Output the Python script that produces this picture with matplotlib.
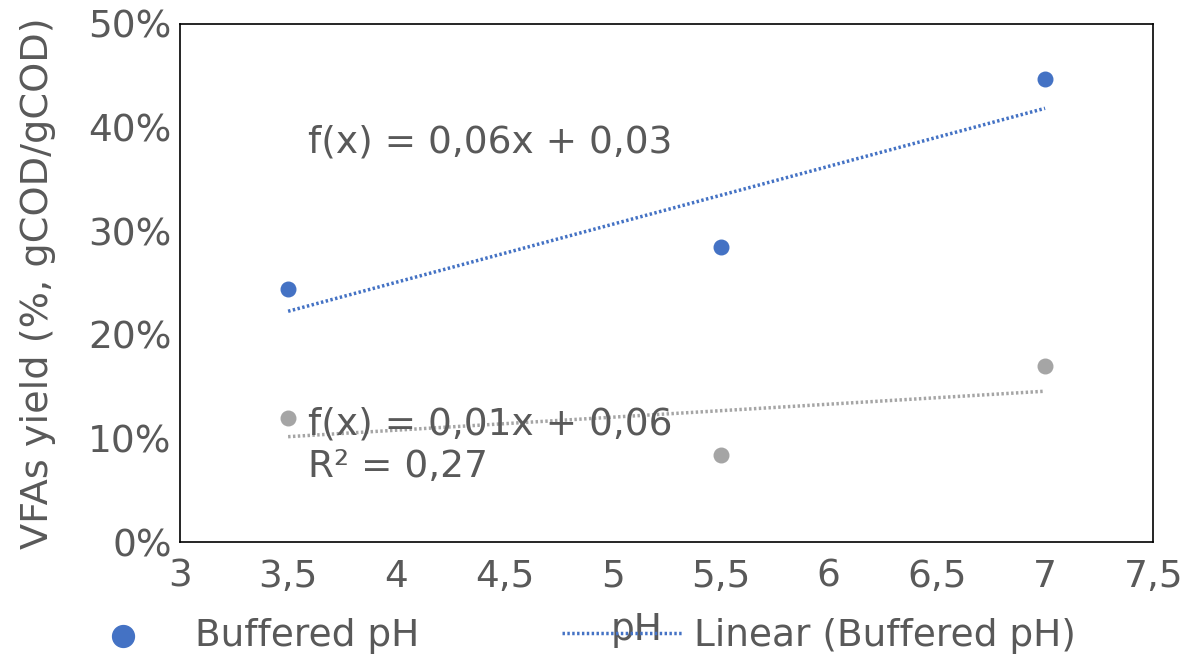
import numpy as np
import matplotlib
matplotlib.use("Agg")
import matplotlib.pyplot as plt
from matplotlib.ticker import FuncFormatter

# values (VFAs yield, %)
ph = [3.5, 5.5, 7.0]
buffered = [24.4, 28.5, 44.7]
unbuffered = [12.0, 8.4, 17.0]

x_ticks = [3, 3.5, 4, 4.5, 5, 5.5, 6, 6.5, 7, 7.5]
y_ticks = [0, 10, 20, 30, 40, 50]

blue = "#4472C4"
grey = "#A5A5A5"
txt = "#595959"

plt.rcParams["font.family"] = ["DejaVu Sans"]
plt.rcParams["font.size"] = 27

fig = plt.figure(figsize=(11.84, 6.57), dpi=100)
ax = fig.add_axes([0.152, 0.175, 0.822, 0.7885])

ax.scatter(ph, buffered, s=110, color=blue, zorder=3, label="Buffered pH")
ax.scatter(ph, unbuffered, s=110, color=grey, zorder=3)

# linear trendlines fitted to the points
xs = np.array([min(ph), max(ph)])
b1 = np.polyfit(ph, buffered, 1)
b2 = np.polyfit(ph, unbuffered, 1)
ax.plot(xs, np.polyval(b1, xs), color=blue, lw=2.5, linestyle=(0, (0.7, 0.7)),
        label="Linear (Buffered pH)")
ax.plot(xs, np.polyval(b2, xs), color=grey, lw=2.5, linestyle=(0, (0.7, 0.7)))

ax.text(3.59, 38.6, "f(x) = 0,06x + 0,03", color=txt, fontsize=27, va="center")
ax.text(3.59, 11.3, "f(x) = 0,01x + 0,06", color=txt, fontsize=27, va="center")
ax.text(3.59, 7.2, "R² = 0,27", color=txt, fontsize=27, va="center")

ax.set_xlim(3, 7.5)
ax.set_ylim(0, 50)
ax.set_xticks(x_ticks)
ax.set_yticks(y_ticks)
ax.xaxis.set_major_formatter(FuncFormatter(lambda v, p: f"{v:g}".replace(".", ",")))
ax.yaxis.set_major_formatter(FuncFormatter(lambda v, p: f"{v:.0f}%"))
ax.tick_params(length=0, colors=txt, labelsize=27)
ax.tick_params(axis="x", pad=12)
ax.tick_params(axis="y", pad=6)

for spine in ax.spines.values():
    spine.set_color("black")
    spine.set_linewidth(1.2)

ax.set_ylabel("VFAs yield (%, gCOD/gCOD)", color=txt, fontsize=27.5)
ax.yaxis.set_label_coords(-0.127, 0.5)
ax.set_xlabel("pH", color=txt, fontsize=27)
ax.xaxis.set_label_coords(0.469, -0.135)

fig.legend(loc="center", bbox_to_anchor=(0.481, 0.032), ncol=2, frameon=False,
           fontsize=27, labelcolor=txt, handlelength=3.2, handletextpad=0.32,
           columnspacing=3.8, markerscale=1.5)

fig.savefig("out.png", dpi=100)
